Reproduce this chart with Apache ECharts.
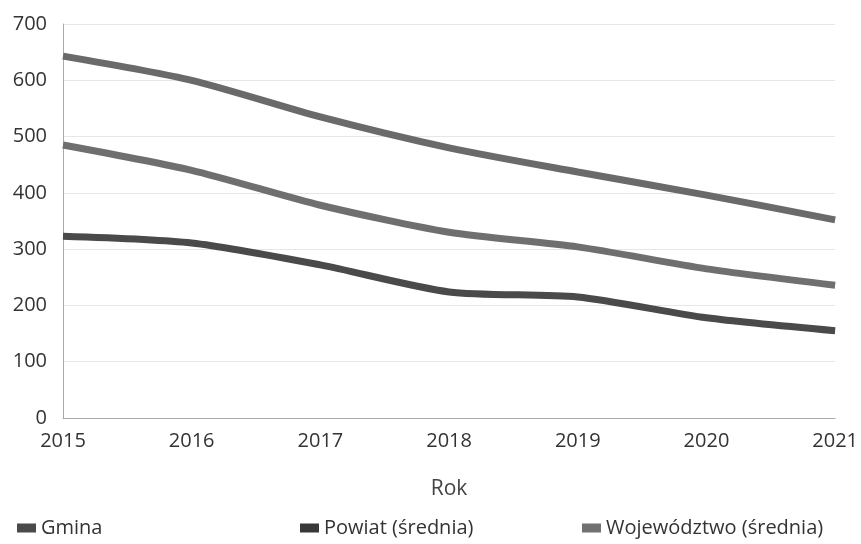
<!DOCTYPE html>
<html><head><meta charset="utf-8">
<script src="https://cdn.jsdelivr.net/npm/echarts@6/dist/echarts.min.js"></script>
<style>html,body{margin:0;padding:0;background:#fff}#c{width:861px;height:544px}</style>
</head><body><div id="c"></div>
<script>
const years = ['2015','2016','2017','2018','2019','2020','2021'];
const yTicks = [0,100,200,300,400,500,600,700];
const seriesNames = ['Gmina','Powiat (średnia)','Województwo (średnia)'];
const gmina = [485, 440, 378, 330, 304, 265, 236];
const powiat = [323, 311, 272, 224, 215, 178, 155];
const wojewodztwo = [643, 600, 535, 480, 437, 396, 352];

const legendColors = ['#4a4a4a', '#383838', '#717171'];
const lineColors = ['#6f6f6f', '#4a4a4a', '#6a6a6a'];
const values = [gmina, powiat, wojewodztwo];
const font = 'Open Sans, sans-serif';

const chart = echarts.init(document.getElementById('c'));
const legendPos = [17, 300, 582];
chart.setOption({
  animation: false,
  grid: {left: 63, right: 23, top: 24, bottom: 126},
  legend: seriesNames.map((n, i) => ({
    data: [n], left: legendPos[i], top: 518, padding: 0, icon: 'rect', itemWidth: 19, itemHeight: 9, itemGap: 8,
    textStyle: {fontFamily: font, fontSize: 20, color: '#333'}
  })),
  xAxis: {
    type: 'category', data: years, boundaryGap: false,
    name: 'Rok', nameLocation: 'middle', nameGap: 61,
    nameTextStyle: {fontFamily: font, fontSize: 21, color: '#444'},
    axisLine: {lineStyle: {color: '#aaa'}}, axisTick: {show: false},
    axisLabel: {fontFamily: font, fontSize: 20, color: '#333', margin: 13}
  },
  yAxis: {
    type: 'value', min: yTicks[0], max: yTicks[yTicks.length - 1], interval: 100,
    axisLine: {show: true, lineStyle: {color: '#aaa'}}, axisTick: {show: false},
    axisLabel: {fontFamily: font, fontSize: 20, color: '#333', margin: 16},
    splitLine: {lineStyle: {color: '#e6e6e6'}}
  },
  series: seriesNames.map((n, i) => ({
    name: n, type: 'line', data: values[i], smooth: 0.25, showSymbol: false,
    itemStyle: {color: legendColors[i]},
    lineStyle: {color: lineColors[i], width: 7}
  }))
});
</script></body></html>
